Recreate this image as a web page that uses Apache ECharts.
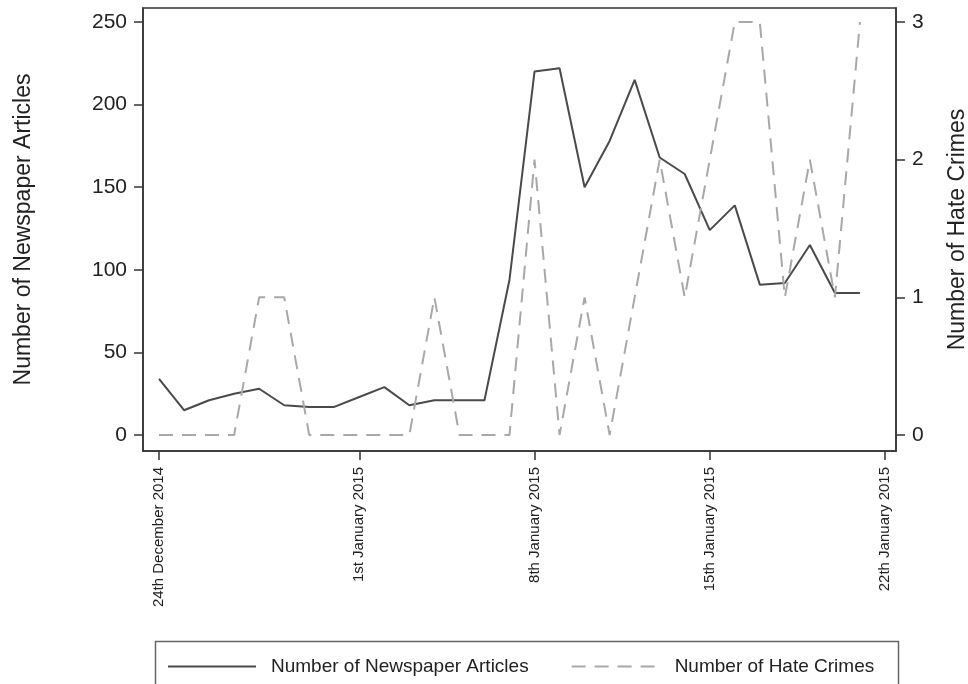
<!DOCTYPE html>
<html lang="en">
<head>
    <meta charset="utf-8">
    <title>Newspaper Articles and Hate Crimes</title>
    <style>
        html, body { margin: 0; padding: 0; background: #fff; overflow: hidden; }
    </style>
</head>
<body>
<div id="main" style="width: 968px;height:684px;"></div>

<script src="https://cdn.jsdelivr.net/npm/echarts@6/dist/echarts.min.js"></script>
<script>
// day index 0 = 24 Dec 2014
var days = [0, 1, 2, 3, 4, 5, 6, 7, 8, 9, 10, 11, 12, 13, 14,
    15, 16, 17, 18, 19, 20, 21, 22, 23, 24, 25, 26, 27, 28];
var articles = [34, 15, 21, 25, 28, 18, 17, 17, 23, 29, 18, 21, 21, 21, 94,
    220, 222, 150, 178, 215, 168, 158, 124, 139, 91, 92, 115, 86, 86];
var hateCrimes = [0, 0, 0, 0, 1, 1, 0, 0, 0, 0, 0, 1, 0, 0, 0,
    2, 0, 1, 0, 1, 2, 1, 2, 3, 3, 1, 2, 1, 3];
var tickDays = [0, 8, 15, 22, 29];
var tickLabels = ['24th December 2014', '1st January 2015', '8th January 2015',
    '15th January 2015', '22th January 2015'];
var leftTicks = [0, 50, 100, 150, 200, 250];
var rightTicks = [0, 1, 2, 3];

var font = 'Liberation Sans, Arial, sans-serif';

function pairs(xs, ys) {
    return xs.map(function (x, i) { return [x, ys[i]]; });
}

var myChart = echarts.init(document.getElementById('main'));

var option = {
    backgroundColor: '#fff',
    animation: false,
    textStyle: { fontFamily: font, color: '#222' },
    grid: {
        left: 143, right: 72, top: 8, bottom: 233,
        outerBoundsMode: 'none',
        show: true, borderColor: '#333', borderWidth: 1.5
    },
    legend: {
        left: 162, top: 652,
        itemWidth: 88, itemHeight: 14, itemGap: 42,
        itemStyle: { opacity: 0, borderWidth: 0 },
        textStyle: { fontSize: 19, color: '#222', fontFamily: font, padding: [0, 0, 0, 10] },
        data: ['Number of Newspaper Articles', 'Number of Hate Crimes']
    },
    graphic: [{
        type: 'rect',
        left: 153, top: 639,
        shape: { width: 743, height: 70 },
        style: { fill: 'none', stroke: '#666', lineWidth: 1.5 },
        silent: true
    }],
    xAxis: {
        type: 'value',
        min: -0.64, max: 29.44,
        splitLine: { show: false },
        axisLine: { show: true, onZero: false, lineStyle: { color: '#333', width: 1.5 } },
        axisTick: { show: true, length: 9, customValues: tickDays, lineStyle: { color: '#333', width: 1.5 } },
        axisLabel: {
            customValues: tickDays,
            rotate: 90, margin: 16, fontSize: 15, color: '#222',
            formatter: function (v) {
                var i = tickDays.indexOf(Math.round(v));
                return i >= 0 ? tickLabels[i] : '';
            }
        }
    },
    yAxis: [{
        type: 'value',
        position: 'left',
        min: -9.7, max: 258.5,
        name: 'Number of Newspaper Articles',
        nameLocation: 'middle', nameGap: 108, nameRotate: 90,
        nameTextStyle: { fontSize: 23, color: '#222' },
        splitLine: { show: false },
        axisLine: { show: true, onZero: false, lineStyle: { color: '#333', width: 1.5 } },
        axisTick: { show: true, length: 9, customValues: leftTicks, lineStyle: { color: '#333', width: 1.5 } },
        axisLabel: { customValues: leftTicks, fontSize: 21, color: '#222', margin: 16 }
    }, {
        type: 'value',
        position: 'right',
        min: -0.1164, max: 3.102,
        name: 'Number of Hate Crimes',
        nameLocation: 'middle', nameGap: 50, nameRotate: 90,
        nameTextStyle: { fontSize: 23, color: '#222' },
        splitLine: { show: false },
        axisLine: { show: true, onZero: false, lineStyle: { color: '#333', width: 1.5 } },
        axisTick: { show: true, length: 9, customValues: rightTicks, lineStyle: { color: '#333', width: 1.5 } },
        axisLabel: { customValues: rightTicks, fontSize: 21, color: '#222', margin: 16 }
    }],
    series: [{
        name: 'Number of Newspaper Articles',
        type: 'line',
        yAxisIndex: 0,
        symbol: 'none',
        data: pairs(days, articles),
        lineStyle: { color: '#4a4a4a', width: 2 },
        itemStyle: { color: '#4a4a4a' }
    }, {
        name: 'Number of Hate Crimes',
        type: 'line',
        yAxisIndex: 1,
        symbol: 'none',
        data: pairs(days, hateCrimes),
        lineStyle: { color: '#a8a8a8', width: 2, type: [14, 9] },
        itemStyle: { color: '#a8a8a8' }
    }]
};

myChart.setOption(option);
window.addEventListener('resize', function () {
    myChart.resize();
});
</script>
</body>
</html>
